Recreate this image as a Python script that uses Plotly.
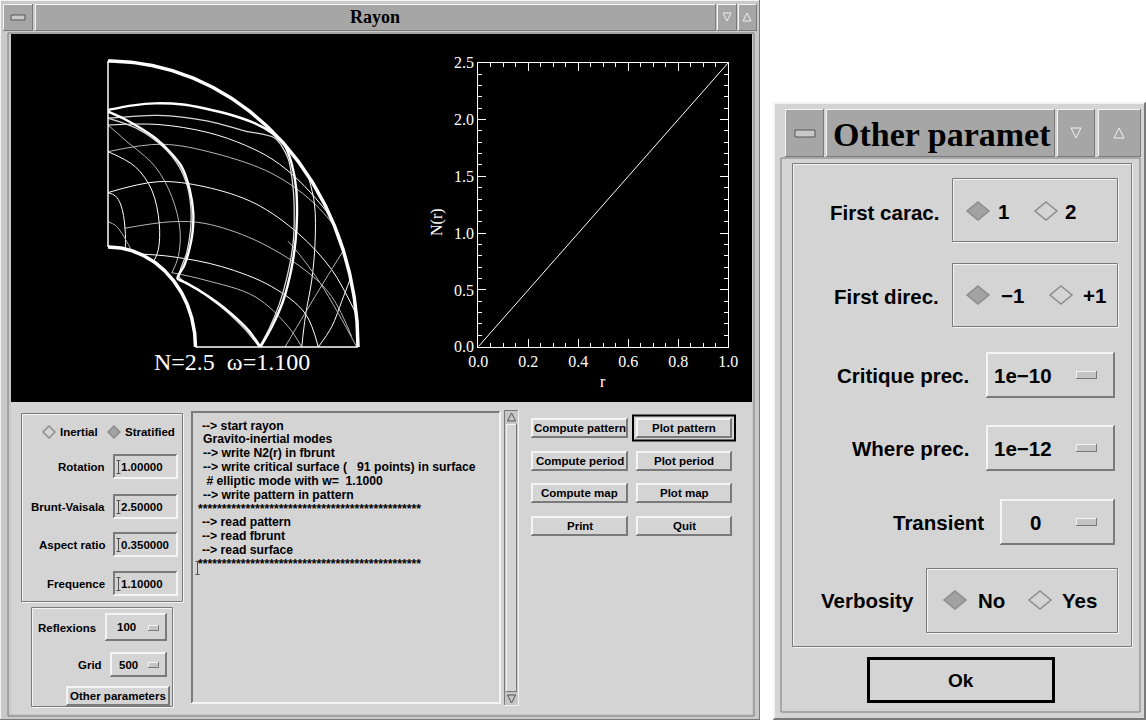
import numpy as np
import plotly.graph_objects as go

# ---------------- data ----------------
R_VALUES = [0.0, 1.0]
N_VALUES = [0.0, 2.5]
R_TICKS = [0.0, 0.2, 0.4, 0.6, 0.8, 1.0]
N_TICKS = [0.0, 0.5, 1.0, 1.5, 2.0, 2.5]

ROTATION = 1.0
BRUNT_VAISALA = 2.5
ASPECT_RATIO = 0.35
FREQUENCE = 1.1
OUTER_RADIUS = 1.0
REFLEXIONS = 100
GRID_POINTS = 500

# periodic orbit (thick), in units of the outer radius
ORBIT_OUT_X = [0.0, 0.10, 0.188, 0.30, 0.388, 0.49, 0.588, 0.65, 0.705, 0.735, 0.752, 0.756, 0.750, 0.733, 0.700, 0.655, 0.610]
ORBIT_OUT_Y = [0.829, 0.845, 0.852, 0.848, 0.834, 0.812, 0.782, 0.752, 0.708, 0.64, 0.56, 0.46, 0.37, 0.27, 0.16, 0.07, 0.0]
ORBIT_IN_X = [0.610, 0.561, 0.495, 0.43, 0.37, 0.31, 0.278, 0.305, 0.325, 0.338, 0.341, 0.327, 0.295, 0.25, 0.19, 0.121, 0.06, 0.0]
ORBIT_IN_Y = [0.0, 0.059, 0.115, 0.16, 0.195, 0.225, 0.24, 0.285, 0.34, 0.40, 0.47, 0.55, 0.63, 0.68, 0.73, 0.77, 0.80, 0.823]
ORBIT_OUT2_X = [0.0, 0.2, 0.4, 0.55, 0.668, 0.72, 0.74, 0.745, 0.74, 0.72, 0.685, 0.645, 0.605]
ORBIT_OUT2_Y = [0.80, 0.81, 0.79, 0.755, 0.73, 0.66, 0.56, 0.46, 0.36, 0.26, 0.15, 0.065, 0.0]
ORBIT_IN2_X = [0.605, 0.55, 0.48, 0.40, 0.33, 0.285, 0.315, 0.33, 0.332, 0.318, 0.285, 0.22, 0.12, 0.0]
ORBIT_IN2_Y = [0.0, 0.06, 0.12, 0.175, 0.215, 0.245, 0.33, 0.41, 0.48, 0.56, 0.63, 0.70, 0.762, 0.80]

# thin ray segments
RAYS_X = [
    [0.0, 0.2, 0.4, 0.55, 0.66, 0.76, 0.85, 0.89],
    [0.0, 0.215, 0.428, 0.655, 0.815, 0.921, 0.94],
    [0.0, 0.201, 0.388, 0.588, 0.761, 0.895, 0.99],
    [0.066, 0.255, 0.388, 0.588, 0.788, 0.895, 0.975],
    [0.13, 0.255, 0.455, 0.655, 0.788, 0.841],
    [0.255, 0.388, 0.588, 0.721, 0.775],
    [0.0, 0.108, 0.175, 0.205, 0.201, 0.181],
    [0.0, 0.068, 0.188, 0.255, 0.288, 0.281, 0.255],
    [0.0, 0.03, 0.05, 0.062, 0.068, 0.07, 0.069],
    [0.0, 0.03, 0.055, 0.075, 0.095],
    [0.80, 0.826, 0.828, 0.815, 0.79, 0.775],
    [0.708, 0.788, 0.868, 0.94],
    [0.841, 0.895, 0.935, 0.97],
    [0.995, 0.921, 0.841, 0.76, 0.72],
]
RAYS_Y = [
    [0.776, 0.778, 0.75, 0.705, 0.655, 0.585, 0.50, 0.455],
    [0.683, 0.709, 0.677, 0.607, 0.51, 0.40, 0.34],
    [0.54, 0.578, 0.56, 0.502, 0.397, 0.27, 0.12],
    [0.415, 0.438, 0.432, 0.374, 0.269, 0.176, 0.036],
    [0.325, 0.316, 0.281, 0.211, 0.118, 0.0],
    [0.26, 0.234, 0.176, 0.071, 0.0],
    [0.683, 0.631, 0.549, 0.432, 0.339, 0.295],
    [0.776, 0.724, 0.631, 0.526, 0.409, 0.316, 0.258],
    [0.54, 0.528, 0.50, 0.46, 0.415, 0.38, 0.343],
    [0.438, 0.425, 0.398, 0.368, 0.337],
    [0.60, 0.50, 0.36, 0.234, 0.11, 0.0],
    [0.0, 0.118, 0.234, 0.335],
    [0.0, 0.071, 0.16, 0.24],
    [0.0, 0.118, 0.234, 0.33, 0.37],
]

LOG_LINES = [
    "--> start rayon",
    "Gravito-inertial modes",
    "--> write N2(r) in fbrunt",
    "--> write critical surface (\u00a0\u00a0\u00a091 points) in surface",
    "\u00a0# elliptic mode with w=\u00a0\u00a01.1000",
    "--> write pattern in pattern",
    "*" * 47,
    "--> read pattern",
    "--> read fbrunt",
    "--> read surface",
    "*" * 47,
]
BUTTONS = [["Compute pattern", "Plot pattern"], ["Compute period", "Plot period"],
           ["Compute map", "Plot map"], ["Print", "Quit"]]

# ---------------- helpers ----------------
W, H = 1146, 720
SANS = "Liberation Sans"
SERIF = "Liberation Serif"
PANEL = "#d4d4d4"
TBAR = "#a6a6a6"
DARK = "#7a7a7a"
LIGHT = "#f4f4f4"

shapes, annots = [], []

def X(p):
    return p / W

def Y(p):
    return 1 - p / H

def rect(x0, y0, x1, y1, fill=None, line=None, lw=0):
    shapes.append(dict(type="rect", xref="paper", yref="paper",
                       x0=X(x0), x1=X(x1), y0=Y(y1), y1=Y(y0),
                       fillcolor=fill if fill else "rgba(0,0,0,0)",
                       line=dict(color=line if line else "rgba(0,0,0,0)", width=lw),
                       layer="below"))

def seg(x0, y0, x1, y1, color, lw=1):
    shapes.append(dict(type="line", xref="paper", yref="paper",
                       x0=X(x0), y0=Y(y0), x1=X(x1), y1=Y(y1),
                       line=dict(color=color, width=lw), layer="below"))

def bevel(x0, y0, x1, y1, fill=PANEL, raised=True, w=1):
    rect(x0, y0, x1, y1, fill=fill)
    a, b = (LIGHT, DARK) if raised else (DARK, LIGHT)
    for i in range(w):
        seg(x0 + i, y0 + i + .5, x1 - i, y0 + i + .5, a)
        seg(x0 + i + .5, y0 + i, x0 + i + .5, y1 - i, a)
        seg(x0 + i, y1 - i - .5, x1 - i, y1 - i - .5, b)
        seg(x1 - i - .5, y0 + i, x1 - i - .5, y1 - i, b)

def etched(x0, y0, x1, y1):
    rect(x0 + 1.5, y0 + 1.5, x1 + .5, y1 + .5, line=LIGHT, lw=1)
    rect(x0 + .5, y0 + .5, x1 - .5, y1 - .5, line=DARK, lw=1)

def text(x, y, s, size=12, anchor="left", family=SANS, color="black", weight="bold", angle=0):
    annots.append(dict(x=X(x), y=Y(y), xref="paper", yref="paper", text=s, showarrow=False,
                       xanchor=anchor, yanchor="middle", borderpad=0, textangle=angle,
                       font=dict(family=family, size=size, color=color, weight=weight)))

def cursor(x, y):
    c = "#505050"
    seg(x + .5, y - 6, x + .5, y + 6, c)
    seg(x - 1.5, y - 6.5, x + 2.5, y - 6.5, c)
    seg(x - 1.5, y + 6.5, x + 2.5, y + 6.5, c)

def diamond(cx, cy, hw, hh, filled):
    path = (f"M{X(cx)},{Y(cy - hh)} L{X(cx + hw)},{Y(cy)} "
            f"L{X(cx)},{Y(cy + hh)} L{X(cx - hw)},{Y(cy)} Z")
    shapes.append(dict(type="path", xref="paper", yref="paper", path=path,
                       fillcolor="#a2a2a2" if filled else PANEL,
                       line=dict(color="#8c8c8c", width=1.5), layer="below"))

def tri(cx, cy, s, up=True, color="#f0f0f0"):
    d = -1 if up else 1
    path = (f"M{X(cx)},{Y(cy + d * s)} L{X(cx + s)},{Y(cy - d * s)} L{X(cx - s)},{Y(cy - d * s)} Z")
    shapes.append(dict(type="path", xref="paper", yref="paper", path=path,
                       fillcolor="rgba(0,0,0,0)", line=dict(color=color, width=1), layer="below"))

# ---------------- main window ----------------
bevel(0, 0, 760, 720, fill="#c9c9c9", raised=True)
rect(8, 33, 754, 716, line=DARK, lw=1)
# title bar
bevel(3, 4, 33, 31, fill=TBAR)
rect(11, 15, 25, 20, fill="#c8c8c8", line="#555555", lw=1)
bevel(35, 4, 716, 31, fill=TBAR)
bevel(717, 4, 737, 31, fill=TBAR)
bevel(738, 4, 757, 31, fill=TBAR)
tri(727, 17, 4, up=False)
tri(747, 17, 4, up=True)
text(375, 17, "Rayon", size=18, anchor="center", family=SERIF)
# black drawing area
rect(11, 34, 752, 402, fill="black")
# grey control area
rect(11, 402, 752, 714, fill=PANEL)

# left parameter panel
etched(21, 413, 183, 602)
diamond(49, 432, 6, 6, False)
text(59, 432, "Inertial", 11.5)
diamond(114, 432, 6, 6, True)
text(124, 432, "Stratified", 11.5)
fields = [("Rotation", ROTATION, 467), ("Brunt-Vaisala", BRUNT_VAISALA, 507),
          ("Aspect ratio", ASPECT_RATIO, 545), ("Frequence", FREQUENCE, 584)]
for lab, val, yy in fields:
    text(106, yy, lab, 11.5, anchor="right")
    bevel(113, yy - 13, 178, yy + 12, fill=PANEL, raised=False, w=2)
    text(120, yy, "%#.6g" % val, 11.5)
    cursor(118, yy)

etched(31, 607, 173, 707)
text(97, 628, "Reflexions", 11.5, anchor="right")
bevel(105, 613, 167, 641, raised=True, w=2)
text(126, 627, str(REFLEXIONS), 11.5, anchor="center")
bevel(148, 625, 159, 631, fill="#c4c4c4", raised=True)
text(103, 665, "Grid", 11.5, anchor="right")
bevel(110, 652, 167, 677, raised=True, w=2)
text(128, 665, str(GRID_POINTS), 11.5, anchor="center")
bevel(148, 662, 159, 668, fill="#c4c4c4", raised=True)
bevel(66, 686, 170, 706, raised=True, w=2)
text(118, 696, "Other parameters", 11.5, anchor="center")

# log text panel
bevel(191, 411, 501, 704, fill=PANEL, raised=False, w=2)
log_y = [425.7, 439.3, 453.3, 467.3, 481, 495, 509, 522.3, 536, 550, 564]
for s, yy in zip(LOG_LINES, log_y):
    x0 = 196.5 if s.startswith("*") else 201.5
    text(x0, yy, s, 12.2)
cursor(197, 568)
# scrollbar
bevel(504, 410, 519, 706, fill="#c6c6c6", raised=False)
bevel(506, 424, 517, 692, fill=PANEL, raised=True)
tri(511.5, 417, 4, up=True, color="#555555")
tri(511.5, 699, 4, up=False, color="#555555")

# buttons
cols = [(531, 628), (636, 732)]
rows = [(418, 438), (451, 471), (483, 503), (516, 536)]
for (ry0, ry1), pair in zip(rows, BUTTONS):
    for (cx0, cx1), lab in zip(cols, pair):
        bevel(cx0, ry0, cx1, ry1, raised=True, w=2)
        text((cx0 + cx1) / 2, (ry0 + ry1) / 2, lab, 11.5, anchor="center")
rect(633, 415.5, 735, 440.5, line="black", lw=2)

# ---------------- Other parameters dialog ----------------
bevel(773, 102, 1146, 720, fill=PANEL, raised=True, w=2)
rect(781, 158, 1140, 712, line=DARK, lw=1)
bevel(785, 109, 824, 157, fill=TBAR)
rect(795, 130, 815, 137, fill="#c8c8c8", line="#555555", lw=1)
bevel(826, 109, 1055, 157, fill=TBAR)
bevel(1057, 109, 1095, 157, fill=TBAR)
bevel(1098, 109, 1141, 157, fill=TBAR)
tri(1076, 133, 5, up=False)
tri(1119, 133, 5, up=True)
text(832, 134, "Other paramet", 34, family=SERIF)
etched(792, 163, 1132, 647)

LB = 20.5
text(940, 212, "First carac.", LB, anchor="right")
etched(952, 178, 1118, 242)
diamond(978, 211, 11, 9, True)
text(997, 211, "1", LB)
diamond(1046, 211, 11, 9, False)
text(1064, 211, "2", LB)

text(940, 296, "First direc.", LB, anchor="right")
etched(952, 263, 1118, 327)
diamond(978, 295, 11, 9, True)
text(1000, 295, "\u22121", LB)
diamond(1061, 295, 11, 9, False)
text(1082, 295, "+1", LB)

opts = [("Critique prec.", "1e\u221210", 970, 986, 375), ("Where prec.", "1e\u221212", 970, 986, 448)]
for lab, val, lx, bx, yy in opts:
    text(lx, yy, lab, LB, anchor="right")
    bevel(bx, yy - 23, 1115, yy + 23, raised=True, w=2)
    text(bx + 7, yy, val, LB)
    bevel(1076, yy - 4, 1097, yy + 4, fill="#c4c4c4", raised=True)
text(985, 522, "Transient", LB, anchor="right")
bevel(1000, 499, 1115, 545, raised=True, w=2)
text(1035, 522, "0", LB, anchor="center")
bevel(1076, 518, 1097, 526, fill="#c4c4c4", raised=True)

text(915, 600, "Verbosity", LB, anchor="right")
etched(926, 568, 1118, 633)
diamond(955, 600, 11, 9, True)
text(977, 600, "No", LB)
diamond(1040, 600, 11, 9, False)
text(1061, 600, "Yes", LB)

bevel(867, 657, 1055, 703, raised=True, w=2)
rect(868.5, 658.5, 1053.5, 701.5, line="black", lw=3)
text(961, 680, "Ok", 19, anchor="center")

# ---------------- traces ----------------
fig = go.Figure()
th = np.linspace(0, np.pi / 2, 240)
common = dict(mode="lines", hoverinfo="skip", showlegend=False, xaxis="x", yaxis="y")

for i, (rx, ry) in enumerate(zip(RAYS_X, RAYS_Y)):
    fig.add_trace(go.Scatter(x=rx, y=ry, line=dict(color="#ffffff" if i % 2 == 0 else "#b4b4b4",
                                                   width=1, shape="spline", smoothing=1.0), **common))
for ox, oy in [(ORBIT_OUT2_X, ORBIT_OUT2_Y), (ORBIT_IN2_X, ORBIT_IN2_Y)]:
    fig.add_trace(go.Scatter(x=ox, y=oy, line=dict(color="#d8d8d8", width=1.3, shape="spline", smoothing=0.8), **common))
for ox, oy in [(ORBIT_OUT_X, ORBIT_OUT_Y), (ORBIT_IN_X, ORBIT_IN_Y)]:
    fig.add_trace(go.Scatter(x=ox, y=oy, line=dict(color="white", width=2.4, shape="spline", smoothing=0.8), **common))

# domain boundaries
fig.add_trace(go.Scatter(x=[0, 0], y=[ASPECT_RATIO, OUTER_RADIUS], line=dict(color="white", width=1.5), **common))
fig.add_trace(go.Scatter(x=[ASPECT_RATIO, OUTER_RADIUS], y=[0, 0], line=dict(color="white", width=1.5), **common))
fig.add_trace(go.Scatter(x=OUTER_RADIUS * np.cos(th), y=OUTER_RADIUS * np.sin(th),
                         line=dict(color="white", width=3.5), **common))
fig.add_trace(go.Scatter(x=ASPECT_RATIO * np.cos(th), y=ASPECT_RATIO * np.sin(th),
                         line=dict(color="white", width=3.5), **common))

# N(r) profile
fig.add_trace(go.Scatter(x=R_VALUES, y=N_VALUES, mode="lines", line=dict(color="white", width=1),
                         hoverinfo="skip", showlegend=False, xaxis="x2", yaxis="y2"))

text(232, 362, f"N={BRUNT_VAISALA:g}\u00a0\u00a0\u03c9={FREQUENCE:.3f}", 24, anchor="center",
     family=SERIF, color="white", weight="normal")
text(603, 381, "r", 16, anchor="center", family=SERIF, color="white", weight="normal")
text(437, 222, "N(r)", 16, anchor="center", family=SERIF, color="white", weight="normal", angle=-90)

axis_font = dict(family=SERIF, size=16, color="white")
fig.update_layout(
    width=W, height=H, margin=dict(l=0, r=0, t=0, b=0, pad=0, autoexpand=False),
    paper_bgcolor="white", plot_bgcolor="black",
    shapes=shapes, annotations=annots, showlegend=False,
    xaxis=dict(domain=[X(98), X(368)], range=[-0.04, 1.04], visible=False, fixedrange=True, automargin=False),
    yaxis=dict(domain=[Y(358.44), Y(49.56)], range=[-0.04, 1.04], visible=False, fixedrange=True, automargin=False),
    xaxis2=dict(domain=[X(478.3), X(728.3)], range=[0, 1], anchor="y2", automargin=False,
                tickmode="array", tickvals=R_TICKS, ticktext=["%.1f" % v for v in R_TICKS],
                ticks="inside", ticklen=8, tickcolor="white", tickwidth=1,
                showline=True, linecolor="white", linewidth=1, mirror="ticks",
                minor=dict(ticks="inside", ticklen=4, tickmode="linear", tick0=0, dtick=0.05,
                           tickcolor="white", showgrid=False),
                showgrid=False, zeroline=False, tickfont=axis_font, fixedrange=True),
    yaxis2=dict(domain=[Y(346.7), Y(62.7)], range=[0, 2.5], anchor="x2", automargin=False,
                tickmode="array", tickvals=N_TICKS, ticktext=["%.1f" % v for v in N_TICKS],
                ticks="inside", ticklen=8, tickcolor="white", tickwidth=1,
                showline=True, linecolor="white", linewidth=1, mirror="ticks",
                minor=dict(ticks="inside", ticklen=4, tickmode="linear", tick0=0, dtick=0.1,
                           tickcolor="white", showgrid=False),
                showgrid=False, zeroline=False, tickfont=axis_font, fixedrange=True),
)
fig.write_html("out.html", config={"displayModeBar": False},
               post_script="document.body.style.margin='0px';document.body.style.overflow='hidden';")
